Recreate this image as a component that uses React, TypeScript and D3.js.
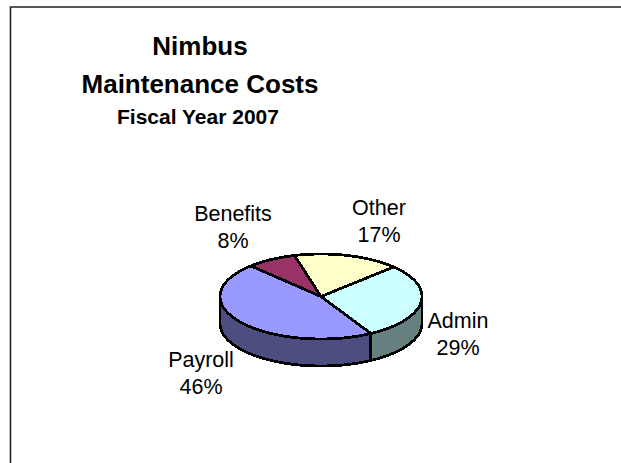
import React from "react";
import * as d3 from "d3";

const categories = ["Admin", "Payroll", "Benefits", "Other"];
const values = [29, 46, 8, 17];
const topColors = ["#ccffff", "#9999ff", "#993366", "#ffffcc"];
const sideColors = ["#668080", "#4d4d80", "#4d1a33", "#808066"];
const labelPos: [number, number][] = [[458, 328], [201, 367], [233, 221], [379, 215]];
const titleLines = ["Nimbus", "Maintenance Costs"];
const subtitle = "Fiscal Year 2007";

const W = 621, H = 463;
const cx = 321, cy = 296.5, rx = 101, ry = 42.5, depth = 27;
const font = "Liberation Sans, Arial, sans-serif";

const pie = d3.pie<number>().sort(null).startAngle((46 * Math.PI) / 180).endAngle((406 * Math.PI) / 180);
const slices = pie(values);
const px = (a: number) => cx + rx * Math.sin(a);
const py = (a: number) => cy - ry * Math.cos(a);

function sweep(a0: number, a1: number) {
  const n = Math.max(2, Math.ceil(((a1 - a0) * 180) / Math.PI / 2));
  return d3.range(n + 1).map((i) => a0 + ((a1 - a0) * i) / n);
}

function topPath(a0: number, a1: number) {
  const line = d3.line<number>().x(px).y(py);
  return `M${cx},${cy}L${line(sweep(a0, a1))!.slice(1)}Z`;
}

function wallPath(a0: number, a1: number) {
  const angles = sweep(a0, a1);
  const upper = d3.line<number>().x(px).y(py)(angles)!;
  const lower = d3.line<number>().x(px).y((a) => py(a) + depth)([...angles].reverse())!;
  return `${upper}L${lower.slice(1)}Z`;
}

const front = (d: d3.PieArcDatum<number>) => {
  const a0 = Math.max(d.startAngle, Math.PI / 2);
  const a1 = Math.min(d.endAngle, (3 * Math.PI) / 2);
  return a1 > a0 ? [a0, a1] : null;
};

export default function App() {
  return (
    <svg width={W} height={H} style={{ position: "absolute", left: 0, top: 0, background: "#fff" }}>
      <path d={`M10.5,${H}V7H${W}`} fill="none" stroke="#222" strokeWidth={1.6} />
      <g fontFamily={font} fontWeight="bold" fill="#000" textAnchor="middle">
        {titleLines.map((t, i) => (
          <text key={t} x={200} y={55 + i * 38} fontSize={26}>{t}</text>
        ))}
        <text x={198} y={124} fontSize={21}>{subtitle}</text>
      </g>
      {slices.map((d, i) => {
        const f = front(d);
        return f ? (
          <path key={i} d={wallPath(f[0], f[1])} fill={sideColors[i]} stroke="#000" strokeWidth={2.8} shapeRendering="crispEdges" />
        ) : null;
      })}
      {slices.map((d, i) => (
        <path key={i} d={topPath(d.startAngle, d.endAngle)} fill={topColors[i]} stroke="#000" strokeWidth={2.8} shapeRendering="crispEdges" />
      ))}
      <g fontFamily={font} fontSize={21.5} fill="#000" textAnchor="middle">
        {categories.map((c, i) => (
          <text key={c} x={labelPos[i][0]} y={labelPos[i][1]}>
            <tspan x={labelPos[i][0]}>{c}</tspan>
            <tspan x={labelPos[i][0]} dy={26.5}>{values[i]}%</tspan>
          </text>
        ))}
      </g>
    </svg>
  );
}
